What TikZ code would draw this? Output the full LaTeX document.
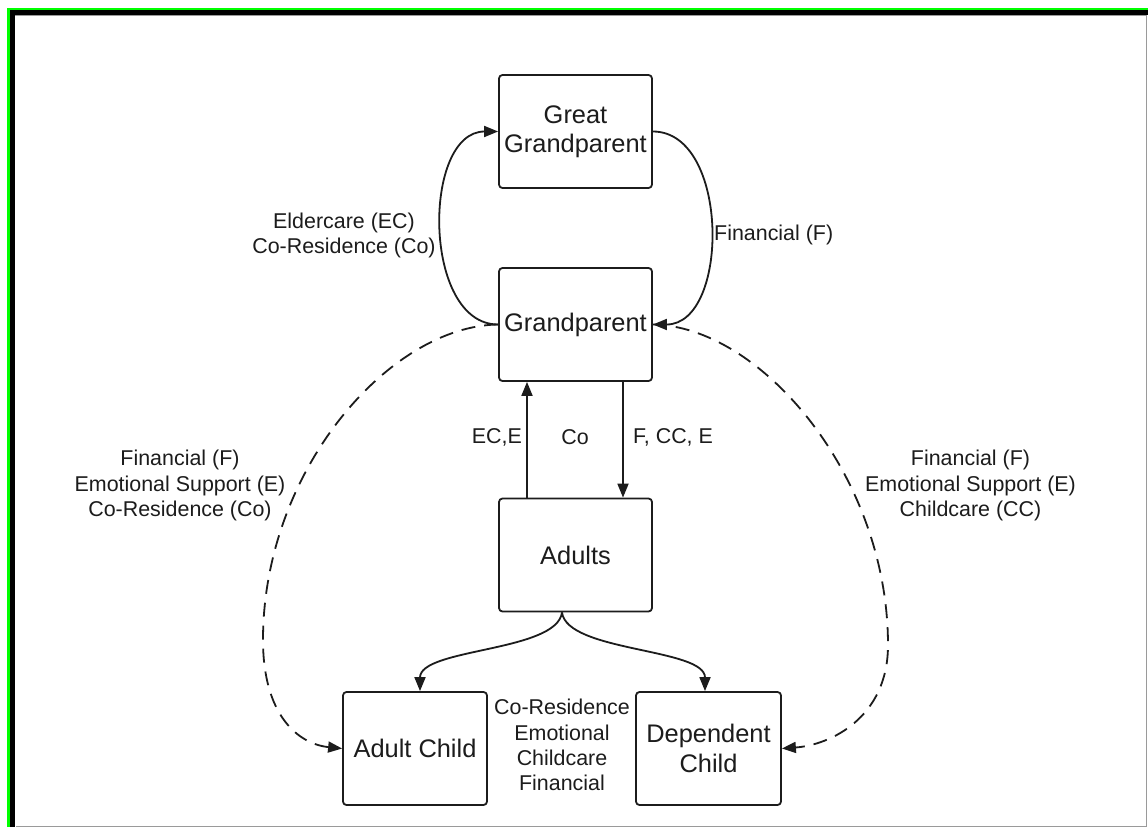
\documentclass[tikz,border=0pt]{standalone}
\usepackage{fontspec}
\setmainfont{Liberation Sans}
\usetikzlibrary{arrows.meta}
\definecolor{ink}{HTML}{1C1C1C}
\definecolor{framegreen}{HTML}{00FF00}
\definecolor{framegray}{HTML}{9A9A9A}
\begin{document}
\begin{tikzpicture}[x=1bp,y=-1bp,
 box/.style={draw=ink, line width=1.8bp, rounded corners=3.5bp, minimum width=153bp, minimum height=113bp, align=center, inner sep=0pt, font=\fontsize{25.5}{29.5}\selectfont, text=ink},
 lbl/.style={align=center, inner sep=0pt, font=\fontsize{21.5}{25.4}\selectfont, text=ink},
 conn/.style={draw=ink, line width=1.8bp, -{Triangle[length=14bp,width=11bp]}},
 dashconn/.style={conn, dash pattern=on 14bp off 9bp}]
\fill[white] (0,0) rectangle (1148,827);
\useasboundingbox (0,0) rectangle (1148,827);
% frame
\fill[framegreen] (7,7.5) rectangle (1148,10);
\fill[framegreen] (7,7.5) rectangle (9.5,827);
\fill[black] (9.5,10) rectangle (1148,15);
\fill[black] (9.5,10) rectangle (15,827);
\draw[framegray, line width=1bp] (15,15.5) -- (1146.6,15.5) -- (1146.6,826.3) -- (15.5,826.3);
% nodes
\node[box] (gg) at (575.5,131.5) {Great\\Grandparent};
\node[box] (gp) at (575.5,324.5) {Grandparent};
\node[box] (adults) at (575.5,555) {Adults};
\node[box, minimum width=144bp] (ac) at (415,748.5) {Adult Child};
\node[box, minimum width=145bp] (dc) at (708.5,748.5) {Dependent\\Child};
% labels
\node[lbl] (lec) at (344,235.5) {Eldercare (EC)\\Co-Residence (Co)};
\node[lbl, anchor=west] (lfin) at (714,235) {Financial (F)};
\node[lbl] (lleft) at (180,485.5) {Financial (F)\\Emotional Support (E)\\Co-Residence (Co)};
\node[lbl] (lright) at (970.5,485.5) {Financial (F)\\Emotional Support (E)\\Childcare (CC)};
\node[lbl, anchor=east] (lece) at (522,437) {EC,E};
\node[lbl] (lco) at (575,437) {Co};
\node[lbl, anchor=west] (lfcc) at (633,437) {F, CC, E};
\node[lbl] (lbot) at (562,745) {Co-Residence\\Emotional\\Childcare\\Financial};
% connectors
\draw[conn] (gp.west) .. controls (422,324.5) and (422,131.5) .. (gg.west);
\draw[conn] (gg.east) .. controls (730,131.5) and (730,324.5) .. (gp.east);
\draw[conn] ([xshift=-48.5bp]adults.north) -- ([xshift=-48.5bp]gp.south);
\draw[conn] ([xshift=47.5bp]gp.south) -- ([xshift=47.5bp]adults.north);
\coordinate (fork) at ([xshift=-13.5bp]adults.south);
\draw[conn] (fork) .. controls (557,652) and (420,648) .. ([xshift=5bp]ac.north);
\draw[conn] (fork) .. controls (567,652) and (705,648) .. ([xshift=-3.5bp]dc.north);
\draw[dashconn] (gp.west) .. controls (390,326) and (263,470) .. (263,640) .. controls (263,715) and (298,744) .. (ac.west);
\draw[dashconn] (gp.east) .. controls (760,326) and (888,475) .. (888,645) .. controls (888,718) and (830,745) .. (dc.east);
\end{tikzpicture}
\end{document}
